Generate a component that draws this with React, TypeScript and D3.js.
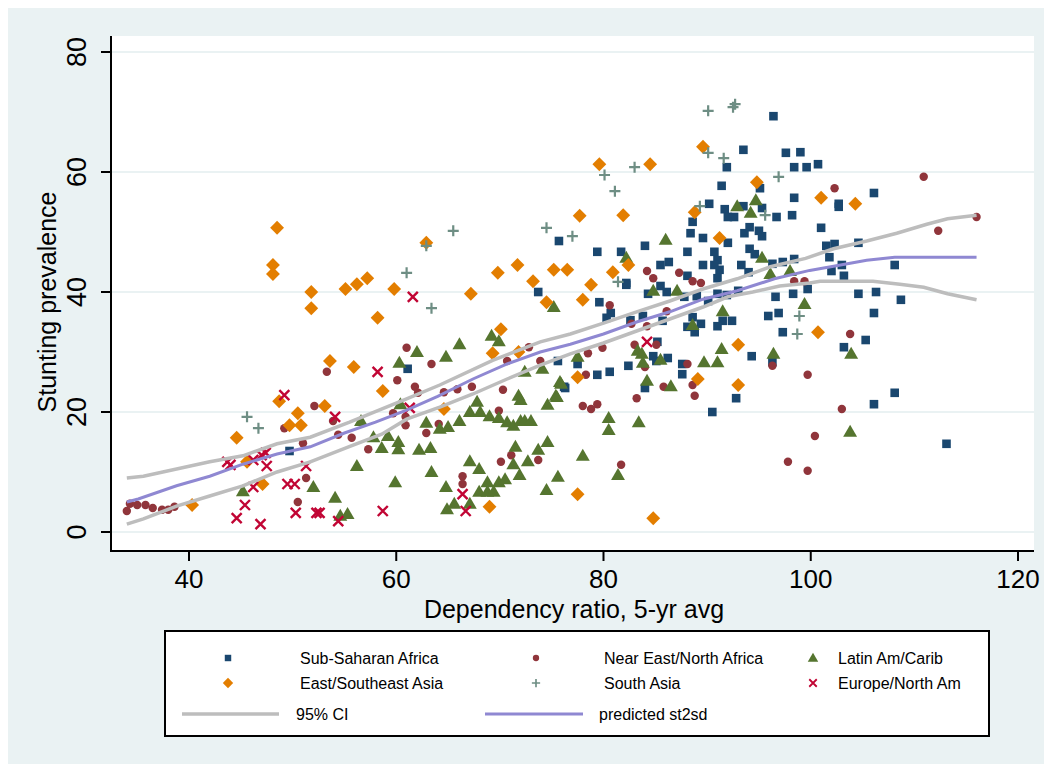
import * as d3 from 'd3';

type Pt = [number, number];

// scatter groups [dependency ratio, stunting prevalence]
const subSaharan: Pt[] = [
  [49.7, 13.5], [75.7, 48.5], [73.7, 40], [61.1, 27.2], [75.6, 28.5], [77.5, 28], [76.2, 24.2], [76.3, 24],
  [96.4, 69.3], [93.5, 63.7], [91.9, 60.8], [97.6, 63.2], [98.4, 60.8], [95.1, 57.3], [91.4, 57.7], [90.2, 54.7],
  [91.7, 53.8], [92, 52.5], [92.6, 52.5], [93.5, 54.3], [95.3, 54], [96.7, 52.5], [98.2, 52.8], [98.4, 55.7],
  [88.6, 51.7], [88.4, 49.8], [89.6, 49], [92, 48.2], [93.6, 49.8], [94.1, 50.8], [95, 50.2], [95.3, 49.3],
  [84, 47.7], [79.4, 46.7], [81.7, 46.7], [82.2, 41.5], [88.1, 46.7], [90.7, 46.7], [91, 45.3], [91.2, 43.7],
  [90.7, 44.5], [89.6, 44.5], [85.5, 44.5], [86.3, 45], [88.1, 42.7], [91, 42.3], [94.1, 47.2], [94.6, 46.3],
  [93.3, 44.5], [94, 43.3], [96.3, 44.7], [97.3, 45], [98.4, 45.5], [85.5, 41],
  [79.6, 38.3], [80.7, 36.5], [80.3, 35.7], [86.1, 40], [84.3, 39.7], [82.2, 41.2], [87.8, 39.2], [89, 39.3],
  [90.1, 38.5], [91, 39.7], [91.9, 39.5], [93, 40.2], [96.6, 39.2], [98.3, 39.7], [99.7, 40.5], [95.9, 36],
  [96.9, 36.5], [97.3, 33.3], [91.5, 35.2], [92.4, 35.2], [91, 34.3], [89.4, 34.7], [88.8, 33.3], [88.1, 34.2],
  [88.6, 35.8], [83.8, 36], [82.6, 35.3], [85.7, 35.2], [85.2, 31.7], [84.8, 29.3], [85.1, 28.5], [86.2, 29],
  [82.4, 27.7], [87.6, 28], [87.6, 26.3], [84, 24], [94.3, 29.3], [96.3, 28.3], [92.8, 22.3], [90.5, 20],
  [79.4, 26.2], [80.6, 26.7],
  [99, 63.3], [99.6, 60.8], [100.7, 61.3], [102.7, 54.7], [102.7, 54.2], [106.1, 56.5], [101, 50.7], [101.5, 47.7],
  [102.3, 48], [101.8, 45.8], [104.6, 48.2], [103, 44.5], [102, 43.5], [103.2, 42.7], [108.1, 44.5],
  [104.6, 39.7], [106.3, 40], [108.7, 38.7], [106.1, 36.5], [105.3, 32], [103.2, 30.8], [108.1, 23.2],
  [106.1, 21.3], [113.1, 14.7],
];

const nearEast: Pt[] = [
  [53.3, 26.7], [52.1, 21], [49.2, 17.3], [53.9, 18.5], [54.4, 16.2], [51, 14.8], [51.3, 9], [50.5, 5],
  [34, 3.5], [34.3, 4.7], [35, 4.5], [35.8, 4.5], [36.5, 4], [37.4, 3.7], [38, 3.7], [38.6, 4.2],
  [61, 30.7], [63.4, 28], [60.1, 25.3], [61.8, 24.2], [72.8, 30.8], [70.7, 28.5], [73.9, 28.5], [70.3, 23.7],
  [67.3, 24.2], [65.9, 23.8], [64.6, 23.3], [62.1, 23.2], [59.7, 19.8], [60.9, 19.2], [60.9, 17.8], [55.7, 15.7],
  [57.3, 13.8], [62.9, 16.5], [64.1, 18], [66.4, 9.3], [66.4, 8], [69.9, 20.2], [71.1, 12.8], [70.1, 11.7],
  [73.7, 12], [84.2, 43.5], [84.8, 42.3], [87.3, 43.2], [88.6, 41.8], [89.4, 41.5], [98.4, 41.8],
  [80.6, 37.8], [86.1, 36.8], [82.7, 34.7], [84.2, 34.3], [85.1, 31.2], [83, 31.2], [84, 27.5], [88.1, 28],
  [88.6, 24.5], [88.8, 22.7], [85.8, 24.2], [83.2, 22.3], [96.3, 27.7], [99.7, 26.2], [78.3, 26.2], [78.5, 29.8],
  [79.9, 30.7], [78, 21], [78.8, 20.5], [79.4, 21.3], [81.7, 11.2], [97.8, 11.7], [99.7, 10.2],
  [110.9, 59.2], [102.3, 57.3], [112.3, 50.2], [116, 52.5], [99.4, 41.8], [103.8, 33], [103, 20.5], [100.4, 16],
];

const latinAm: Pt[] = [
  [45.2, 6.8], [52, 7.5], [54.1, 5.7], [54.6, 2.7], [55.3, 3],
  [75.2, 37.5], [69.2, 32.7], [69.9, 31.8], [66.1, 31.3], [62, 30], [64.8, 29.2], [60.3, 28.2], [72.4, 26.7],
  [74.1, 27.2], [75.8, 25], [71.8, 22.7], [75.4, 22.7],
  [60.4, 21.3], [56.6, 18.5], [57.8, 15.8], [59.2, 16], [58.6, 14], [60.2, 15], [60.2, 13.8], [62.9, 18.2],
  [64.2, 17.2], [65, 17.5], [66.1, 18.5], [62.2, 13.7], [63.3, 14], [56.2, 11], [63.4, 10], [59.9, 8.3],
  [64.8, 7.5], [64.9, 3.8], [65.6, 4.7], [67.1, 4.7], [67.8, 21.7], [67.1, 20], [68.1, 20], [69, 19.3],
  [69.9, 19], [70.7, 18.3], [71.3, 17.7], [72, 18.5], [72.4, 18.5], [73, 18.5], [72, 22], [74.6, 21.2],
  [75.5, 22.5], [75.9, 24.7], [71.5, 14.2], [71.3, 11.3], [72.7, 11.8], [73.7, 13.7], [74.6, 15], [71.9, 9.5],
  [67.1, 11.8], [68, 10.5], [68.8, 8.3], [69.9, 8.3], [70.5, 8.8], [68, 6.7], [68.8, 6.7], [69.4, 6.7],
  [75.6, 9.2], [74.5, 7],
  [92.9, 54.3], [94.7, 55.3], [94.2, 53.2], [86, 48.7], [82.2, 45.7], [95.3, 45.7], [98, 43.5], [96.1, 43],
  [84.8, 40.2], [87.1, 40.2], [99.4, 38], [91.5, 36.8], [88.6, 34.5], [83.3, 30.2], [83.7, 29.7], [85.5, 28.7],
  [83.8, 28.2], [84.2, 25.2], [86.5, 24.3], [96.4, 29.7], [91.4, 30.5], [89.7, 28.3], [91, 28.3], [77.5, 29.2],
  [80.5, 19], [80.5, 17], [83.4, 18.3], [78, 12.7], [81.4, 9.5], [103.9, 29.7], [103.8, 16.7],
];

const eastAsia: Pt[] = [
  [48.5, 50.7], [48.1, 44.5], [48.1, 43], [51.8, 40], [55.1, 40.5], [51.8, 37.3], [53.6, 28.5],
  [48.7, 21.8], [53.1, 21], [44.6, 15.7], [50.5, 19.8], [49.7, 17.8], [50.8, 17.8], [45.6, 11.7], [47.1, 8],
  [40.3, 4.5], [56.2, 41.3], [57.2, 42.3], [59.8, 40.5], [62.9, 48.2], [58.2, 35.7], [67.2, 39.7], [69.8, 43.2],
  [71.7, 44.5], [73.2, 41.8], [75.2, 43.7], [76.5, 43.7], [77.7, 52.7], [74.5, 38.3], [70.1, 33.8], [69.3, 29.8],
  [55.9, 27.5], [58.7, 23.5], [71.8, 30], [77.5, 25.8], [64.6, 20.5], [69, 4.2], [77.5, 6.3],
  [89.6, 64.2], [79.6, 61.3], [84.5, 61.3], [94.8, 58.3], [88.8, 53.3], [81.9, 52.8], [91.2, 49], [82.4, 44.5],
  [80.9, 43.3], [78.8, 41.2], [78, 38.7], [89.1, 25.5], [93, 31.2], [93, 24.5], [84.8, 2.3],
  [101, 55.7], [104.3, 54.7], [100.7, 33.3],
];

const southAsia: Pt[] = [
  [45.6, 19.2], [46.7, 17.3], [62.9, 47.7], [65.5, 50.2], [61, 43.2], [63.4, 37.3], [74.5, 50.7], [77, 49.3],
  [90.1, 70.2], [92.5, 70.8], [92.7, 71.3], [90.1, 63.2], [91.6, 62.3], [80.1, 59.5], [83, 60.8], [81.1, 56.8],
  [96.9, 59.2], [89.3, 54.3], [95.6, 52.8], [81.4, 41.7], [98.9, 36], [98.7, 33],
];

const europe: Pt[] = [
  [49.2, 22.8], [54.1, 19.2], [43.7, 11.7], [44, 11.2], [47, 12.8], [47.4, 13.2], [47.5, 11], [46.2, 12],
  [51.3, 11], [46.2, 7.5], [49.5, 8], [50.2, 8], [45.4, 4.5], [44.6, 2.3], [46.9, 1.3], [50.3, 3.2],
  [52.3, 3.2], [52.6, 3.2], [54.4, 1.8], [61.6, 39.2], [58.2, 26.7], [61.3, 20.7], [66.4, 6.3], [66.7, 3.5],
  [58.7, 3.5], [84.2, 31.7],
];

// fitted line and confidence band
const predicted: Pt[] = [
  [34, 5], [35.1, 5.5], [38.8, 7.7], [42, 9.3], [45.2, 11.3], [48.5, 13], [51.7, 14.2], [55, 16.5], [58, 18.3],
  [61, 20.3], [64, 22.6], [67.4, 25.5], [70.7, 28], [73.9, 30], [76.8, 31.3], [80, 33], [83.2, 35], [86.4, 36.7],
  [89.6, 38.8], [92.9, 40.2], [96.5, 42.2], [99.9, 43.6], [102.2, 44.3], [105.4, 45.3], [108.1, 45.8], [116, 45.8],
];
const ciUpper: Pt[] = [
  [34, 9], [35.6, 9.3], [38.8, 10.5], [42, 11.7], [45.2, 12.7], [48.5, 14.7], [51.7, 15.8], [55.5, 18.3],
  [61, 22.2], [64.2, 24.5], [69.3, 28.6], [73.9, 31.7], [76.8, 33], [80, 34.8], [83.2, 36.7], [86.4, 38.5],
  [89.6, 40.5], [92.9, 42.2], [96.1, 44.2], [99.5, 45.6], [102.2, 47.2], [105.4, 48.5], [108.3, 49.8],
  [111.2, 51.3], [113.2, 52.2], [116, 52.8],
];
const ciLower: Pt[] = [
  [34, 1.3], [35.6, 2.2], [38.8, 4.3], [42, 6], [45.2, 7.7], [48.5, 10], [51.7, 11.7], [55.4, 14.2],
  [58.6, 16.3], [61, 18.8], [64.2, 20.8], [67.4, 23], [70.7, 25.5], [73.9, 27.8], [76.8, 29.7], [80, 31.5],
  [83.2, 33.5], [86.4, 35.5], [89.6, 37.5], [92, 39.2], [94.4, 40], [97, 41], [99.9, 41.5], [100.9, 41.8],
  [106, 41.8], [108.6, 41.3], [110.9, 40.8], [113.2, 39.7], [116, 38.7],
];

const xTicks = [40, 60, 80, 100, 120];
const yTicks = [0, 20, 40, 60, 80];

const FONT = 'Liberation Sans, Arial, Helvetica, sans-serif';
const BG = '#eaf2f3';
const NAVY = '#1a476f';
const MAROON = '#90353b';
const GREEN = '#55752f';
const ORANGE = '#e37e00';
const TEAL = '#6e8e84';
const CRANBERRY = '#c10534';
const GRAY = '#bdbdbd';
const PURPLE = '#8f88d2';

const sq = d3.symbol().type(d3.symbolSquare).size(74)();
const circ = d3.symbol().type(d3.symbolCircle).size(56)();
const tri = d3.symbol().type(d3.symbolTriangle).size(84)();
const dia = d3.symbol().type(d3.symbolSquare).size(96)();

function Marker({ kind, cx, cy }: { kind: string; cx: number; cy: number }) {
  const t = `translate(${cx},${cy})`;
  if (kind === 'sq') return <path d={sq} transform={t} fill={NAVY} />;
  if (kind === 'circ') return <path d={circ} transform={t} fill={MAROON} />;
  if (kind === 'tri') return <path d={tri} transform={`translate(${cx},${cy + 1})`} fill={GREEN} />;
  if (kind === 'dia') return <path d={dia} transform={`${t} rotate(45)`} fill={ORANGE} />;
  if (kind === 'plus')
    return <path d="M-5.5,0H5.5M0,-5.5V5.5" transform={t} stroke={TEAL} strokeWidth={2.2} fill="none" />;
  return <path d="M-5,-5L5,5M-5,5L5,-5" transform={t} stroke={CRANBERRY} strokeWidth={2.4} fill="none" />;
}

const groups: { name: string; kind: string; data: Pt[] }[] = [
  { name: 'Sub-Saharan Africa', kind: 'sq', data: subSaharan },
  { name: 'Near East/North Africa', kind: 'circ', data: nearEast },
  { name: 'Latin Am/Carib', kind: 'tri', data: latinAm },
  { name: 'East/Southeast Asia', kind: 'dia', data: eastAsia },
  { name: 'South Asia', kind: 'plus', data: southAsia },
  { name: 'Europe/North Am', kind: 'x', data: europe },
];

export default function App() {
  const W = 1036;
  const H = 756;
  const plot = { left: 103, top: 28, right: 1026, bottom: 543 };

  const x = d3.scaleLinear().domain([40, 120]).range([181, 1010]);
  const y = d3.scaleLinear().domain([0, 80]).range([524, 44]);
  const line = d3.line<Pt>().x((d) => x(d[0])).y((d) => y(d[1]));

  const legendPos = [
    { mx: 220, tx: 292, ty: 656 },
    { mx: 528, tx: 596, ty: 656 },
    { mx: 805, tx: 830, ty: 656 },
    { mx: 220, tx: 292, ty: 681 },
    { mx: 528, tx: 596, ty: 681 },
    { mx: 805, tx: 830, ty: 681 },
  ];

  return (
    <svg width={W} height={H} style={{ display: 'block' }} fontFamily={FONT}>
      <rect x={0} y={0} width={W} height={H} fill={BG} />
      <rect x={plot.left} y={plot.top} width={plot.right - plot.left} height={plot.bottom - plot.top} fill="#fff" />

      {yTicks.map((t) => (
        <line key={'g' + t} x1={plot.left} x2={plot.right} y1={y(t)} y2={y(t)} stroke={BG} strokeWidth={2} />
      ))}

      {groups.map((g) =>
        g.data.map((d, i) => <Marker key={g.kind + i} kind={g.kind} cx={x(d[0])} cy={y(d[1])} />)
      )}

      <path d={line(ciUpper) || ''} fill="none" stroke={GRAY} strokeWidth={3.5} />
      <path d={line(ciLower) || ''} fill="none" stroke={GRAY} strokeWidth={3.5} />
      <path d={line(predicted) || ''} fill="none" stroke={PURPLE} strokeWidth={3} />

      {/* axes */}
      <line x1={plot.left} x2={plot.left} y1={plot.top} y2={plot.bottom + 1} stroke="#000" strokeWidth={2} />
      <line x1={plot.left - 1} x2={plot.right} y1={plot.bottom} y2={plot.bottom} stroke="#000" strokeWidth={2} />
      {yTicks.map((t) => (
        <g key={'y' + t}>
          <line x1={plot.left - 10} x2={plot.left} y1={y(t)} y2={y(t)} stroke="#000" strokeWidth={2} />
          <text
            transform={`translate(78,${y(t)}) rotate(-90)`}
            textAnchor="middle"
            fontSize={27}
            fill="#000"
          >
            {t}
          </text>
        </g>
      ))}
      {xTicks.map((t) => (
        <g key={'x' + t}>
          <line x1={x(t)} x2={x(t)} y1={plot.bottom} y2={plot.bottom + 10} stroke="#000" strokeWidth={2} />
          <text x={x(t)} y={580} textAnchor="middle" fontSize={26} fill="#000">
            {t}
          </text>
        </g>
      ))}
      <text x={566} y={610} textAnchor="middle" fontSize={25} fill="#000">
        Dependency ratio, 5-yr avg
      </text>
      <text transform="translate(48,294) rotate(-90)" textAnchor="middle" fontSize={25} fill="#000">
        Stunting prevalence
      </text>

      {/* legend */}
      <rect x={157} y={623} width={824} height={105} fill="#fff" stroke="#000" strokeWidth={2} />
      {groups.map((g, i) => (
        <g key={'l' + g.kind}>
          <g transform={`translate(${legendPos[i].mx},${legendPos[i].ty - 6})`}>
            <g transform="scale(0.75)">
              <Marker kind={g.kind} cx={0} cy={0} />
            </g>
          </g>
          <text x={legendPos[i].tx} y={legendPos[i].ty} fontSize={16} fill="#000">
            {g.name}
          </text>
        </g>
      ))}
      <line x1={174} x2={271} y1={706} y2={706} stroke={GRAY} strokeWidth={3.5} />
      <text x={288} y={712} fontSize={16} fill="#000">95% CI</text>
      <line x1={477} x2={575} y1={706} y2={706} stroke={PURPLE} strokeWidth={3} />
      <text x={591} y={712} fontSize={16} fill="#000">predicted st2sd</text>
    </svg>
  );
}
